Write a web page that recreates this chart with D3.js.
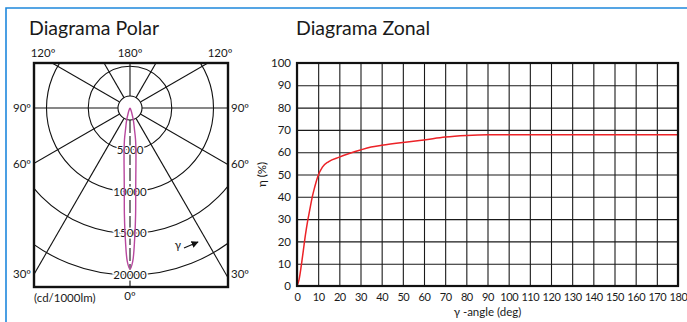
<!DOCTYPE html>
<html><head><meta charset="utf-8">
<script src="https://cdn.jsdelivr.net/npm/d3@7"></script>
<style>
body{margin:0;background:#fff}
text{font-family:Lato,"Open Sans",sans-serif;fill:#1a1a1a}
</style>
</head><body>
<svg id="c" width="687" height="322"></svg>
<script>
// ---------- data ----------
const polarAngles = [30, 60, 90, 120, 150, 180];
const polarRings = [5000, 10000, 15000, 20000];
const ringLabels = ["5000", "10000", "15000", "20000"];
const sideAngleLabels = [90, 60, 30];
const topAngleLabels = ["120º", "180º", "120º"];
const intensityGamma = [0, 1, 2, 3, 4, 5, 6, 8, 10, 12, 15, 20, 25, 30, 40];
const intensityValues = [19300, 18400, 15800, 12800, 9800, 8000, 6800, 5100, 3800, 2500, 1600, 600, 200, 50, 0];

const zonalXTicks = [0,10,20,30,40,50,60,70,80,90,100,110,120,130,140,150,160,170,180];
const zonalYTicks = [0,10,20,30,40,50,60,70,80,90,100];
const zonalGamma = [0,1,2,3,4,5,6,7,8,9,10,12,15,20,25,30,35,40,50,60,70,80,90,100,110,120,130,140,150,160,170,180];
const zonalEff   = [0,3,9,16,23,29,34,39,43,46.5,49.5,53.3,55.8,57.8,59.5,61,62.3,63.1,64.4,65.5,66.8,67.5,67.8,67.8,67.8,67.8,67.8,67.8,67.8,67.8,67.8,67.8];

// ---------- drawing ----------
const svg = d3.select("#c");
svg.append("path").attr("d", "M6,322V8H687").attr("fill", "none")
  .attr("stroke", "#1e88dc").attr("stroke-width", 1.6);

// ===== Polar =====
const P = {x0: 34, x1: 228, y0: 63, y1: 287, cx: 130, cy: 108, inner: 12};
const rS = d3.scaleLinear().domain([0, 20000]).range([0, 167]);
const rad = d => d * Math.PI / 180;
const pt = (gam, R, s) => [P.cx + s * R * Math.sin(rad(gam)), P.cy + R * Math.cos(rad(gam))];

svg.append("defs").append("clipPath").attr("id", "pclip")
  .append("rect").attr("x", P.x0).attr("y", P.y0).attr("width", P.x1 - P.x0).attr("height", P.y1 - P.y0);

svg.append("text").attr("x", 29).attr("y", 35).attr("font-size", 19.5).text("Diagrama Polar");

const pg = svg.append("g").attr("clip-path", "url(#pclip)");
pg.selectAll("circle.ring").data(polarRings).join("circle").attr("class", "ring")
  .attr("cx", P.cx).attr("cy", P.cy).attr("r", d => rS(d))
  .attr("fill", "none").attr("stroke", "#111").attr("stroke-width", 1.1);

const radials = [];
polarAngles.forEach(a => { radials.push({a, s: 1}); if (a !== 180) radials.push({a, s: -1}); });
pg.selectAll("line.rad").data(radials).join("line").attr("class", "rad")
  .attr("x1", d => pt(d.a, P.inner, d.s)[0]).attr("y1", d => pt(d.a, P.inner, d.s)[1])
  .attr("x2", d => pt(d.a, 400, d.s)[0]).attr("y2", d => pt(d.a, 400, d.s)[1])
  .attr("stroke", "#111").attr("stroke-width", 1.1);
// 0 deg dashed axis
pg.append("line").attr("x1", P.cx).attr("y1", P.cy + P.inner).attr("x2", P.cx).attr("y2", P.y1)
  .attr("stroke", "#111").attr("stroke-width", 1.1).attr("stroke-dasharray", "13,3");

pg.append("circle").attr("cx", P.cx).attr("cy", P.cy).attr("r", P.inner)
  .attr("fill", "#fff").attr("stroke", "#111").attr("stroke-width", 1.1);

// ring labels
svg.selectAll("text.rl").data(polarRings).join("text").attr("class", "rl")
  .attr("x", P.cx).attr("y", d => P.cy + rS(d)).attr("dy", "0.36em")
  .attr("text-anchor", "middle").attr("font-size", 11.5)
  .attr("stroke", "#fff").attr("stroke-width", 3).attr("paint-order", "stroke")
  .text((d, i) => ringLabels[i]);

// intensity curve
const curvePts = [];
for (let i = intensityGamma.length - 1; i >= 0; i--) curvePts.push(pt(intensityGamma[i], rS(intensityValues[i]), 1));
for (let i = 1; i < intensityGamma.length; i++) curvePts.push(pt(intensityGamma[i], rS(intensityValues[i]), -1));
svg.append("path").attr("d", d3.line().curve(d3.curveCatmullRom)(curvePts))
  .attr("fill", "none").attr("stroke", "#b8489e").attr("stroke-width", 1.4);

svg.append("rect").attr("x", P.x0).attr("y", P.y0).attr("width", P.x1 - P.x0).attr("height", P.y1 - P.y0)
  .attr("fill", "none").attr("stroke", "#111").attr("stroke-width", 2.4);

// angle labels
const topX = [P.x0 + 9, P.cx, P.x1 - 8];
svg.selectAll("text.tl").data(topAngleLabels).join("text").attr("class", "tl")
  .attr("x", (d, i) => topX[i]).attr("y", 57).attr("text-anchor", "middle").attr("font-size", 11.5).text(d => d);
const sideY = a => P.cy + (P.cx - P.x0) / Math.tan(rad(a));
[-1, 1].forEach(s => {
  svg.selectAll(null).data(sideAngleLabels).join("text")
    .attr("x", s < 0 ? P.x0 - 3 : P.x1 + 3)
    .attr("y", d => (d === 90 ? P.cy : sideY(d)))
    .attr("dy", "0.36em")
    .attr("text-anchor", s < 0 ? "end" : "start").attr("font-size", 11.5).text(d => d + "º");
});
svg.append("text").attr("x", P.cx).attr("y", 300).attr("text-anchor", "middle").attr("font-size", 11.5).text("0º");
svg.append("text").attr("x", 34).attr("y", 302).attr("font-size", 11.5).text("(cd/1000lm)");
// gamma arrow
svg.append("text").attr("x", 178).attr("y", 249).attr("text-anchor", "middle").attr("font-size", 11.5).text("γ");
svg.append("defs").append("marker").attr("id", "ah").attr("viewBox", "0 0 10 10").attr("refX", 9).attr("refY", 5)
  .attr("markerWidth", 6).attr("markerHeight", 6).attr("orient", "auto")
  .append("path").attr("d", "M0,0L10,5L0,10z").attr("fill", "#111");
svg.append("line").attr("x1", 184).attr("y1", 248).attr("x2", 198).attr("y2", 242)
  .attr("stroke", "#111").attr("stroke-width", 1.2).attr("marker-end", "url(#ah)");

// ===== Zonal =====
const Z = {x0: 297, x1: 678, y0: 63, y1: 286};
const x = d3.scaleLinear().domain([0, 180]).range([Z.x0, Z.x1]);
const y = d3.scaleLinear().domain([0, 100]).range([Z.y1, Z.y0]);

svg.append("text").attr("x", 296).attr("y", 35).attr("font-size", 19.5).text("Diagrama Zonal");

const gx = svg.append("g").attr("transform", `translate(0,${Z.y1})`)
  .call(d3.axisBottom(x).tickValues(zonalXTicks).tickSize(-(Z.y1 - Z.y0)).tickFormat(""));
const gy = svg.append("g").attr("transform", `translate(${Z.x0},0)`)
  .call(d3.axisLeft(y).tickValues(zonalYTicks).tickSize(-(Z.x1 - Z.x0)).tickFormat(""));
[gx, gy].forEach(g => { g.select(".domain").remove(); g.selectAll("line").attr("stroke", "#1a1a1a").attr("stroke-width", 1.1); });

const lx = svg.append("g").attr("transform", `translate(0,${Z.y1})`)
  .call(d3.axisBottom(x).tickValues(zonalXTicks).tickSize(0).tickPadding(7));
const ly = svg.append("g").attr("transform", `translate(${Z.x0},0)`)
  .call(d3.axisLeft(y).tickValues(zonalYTicks).tickSize(0).tickPadding(6));
[lx, ly].forEach(g => { g.select(".domain").remove(); g.selectAll("text").attr("font-size", 11.5).attr("fill", "#1a1a1a")
  .attr("font-family", "Lato,'Open Sans',sans-serif"); });
lx.selectAll("text").attr("font-size", 11).attr("letter-spacing", "-0.45px");

svg.append("path").datum(zonalGamma.map((g, i) => [g, zonalEff[i]]))
  .attr("d", d3.line().x(d => x(d[0])).y(d => y(d[1])).curve(d3.curveMonotoneX))
  .attr("fill", "none").attr("stroke", "#ec2227").attr("stroke-width", 1.5);

svg.append("rect").attr("x", Z.x0).attr("y", Z.y0).attr("width", Z.x1 - Z.x0).attr("height", Z.y1 - Z.y0)
  .attr("fill", "none").attr("stroke", "#111").attr("stroke-width", 2.2);

svg.append("text").attr("x", (Z.x0 + Z.x1) / 2).attr("y", 316).attr("text-anchor", "middle").attr("font-size", 11.5)
  .text("γ -angle (deg)");
svg.append("text").attr("transform", `translate(266,${(Z.y0 + Z.y1) / 2}) rotate(-90)`)
  .attr("text-anchor", "middle").attr("font-size", 11.5).text("η (%)");
</script>
</body></html>
